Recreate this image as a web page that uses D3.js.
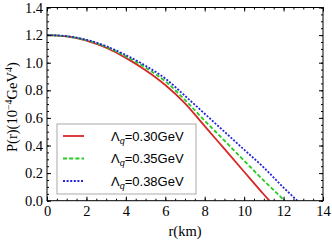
<!DOCTYPE html>
<html><head><meta charset="utf-8">
<script src="https://cdn.jsdelivr.net/npm/d3@7"></script>
<style>body{margin:0;background:#fff}svg{display:block}</style>
</head><body>
<svg id="c" width="332" height="242"></svg>
<script>
const labels = ["0.30", "0.35", "0.38"];
const colors = ["#d92626", "#22cc22", "#2424d8"];
const dashes = [null, "4,2.2", "2,1.6"];
const redR   = [0,1,2,3,4,5,6,7,8,9,10,11,11.28];
const redP   = [1.200,1.190,1.160,1.108,1.035,0.945,0.838,0.705,0.540,0.375,0.210,0.045,0];
const greenR = [0,1,2,3,4,5,6,7,8,9,10,11,12,12.04];
const greenP = [1.200,1.191,1.163,1.115,1.045,0.965,0.865,0.730,0.580,0.435,0.290,0.145,0.006,0];
const blueR  = [0,1,2,3,4,5,6,7,8,9,10,11,12,12.7];
const blueP  = [1.200,1.192,1.166,1.120,1.055,0.978,0.885,0.760,0.630,0.500,0.370,0.240,0.095,0];
const xTicks = [0,2,4,6,8,10,12,14];
const yTicks = [0,0.2,0.4,0.6,0.8,1.0,1.2,1.4];

const series = [[redR,redP],[greenR,greenP],[blueR,blueP]];
const svg = d3.select("#c");
const L=47, R=323, T=7.5, B=200.7;
const x = d3.scaleLinear().domain([0,14]).range([L,R]);
const y = d3.scaleLinear().domain([0,1.4]).range([B,T]);
const serif = "'Liberation Serif','Times New Roman',serif";

svg.append("clipPath").attr("id","cl").append("rect")
  .attr("x",L).attr("y",T).attr("width",R-L).attr("height",B-T);

const line = d3.line().x(d=>x(d[0])).y(d=>y(d[1])).curve(d3.curveMonotoneX);
series.forEach((s,i)=>{
  const pts = s[0].map((r,j)=>[r,s[1][j]]);
  svg.append("path").attr("d",line(pts)).attr("fill","none")
    .attr("stroke",colors[i]).attr("stroke-width",1.8)
    .attr("stroke-dasharray",dashes[i]).attr("clip-path","url(#cl)");
});

svg.append("rect").attr("x",L).attr("y",T).attr("width",R-L).attr("height",B-T)
  .attr("fill","none").attr("stroke","#000").attr("stroke-width",1);

const minorX = d3.range(0,14.01,0.5), minorY = d3.range(0,1.401,0.05);
const axB = d3.axisBottom(x).tickValues(xTicks).tickSize(-4).tickPadding(5).tickFormat(d3.format("d"));
const axT = d3.axisTop(x).tickValues(xTicks).tickSize(-4).tickFormat("");
const axL = d3.axisLeft(y).tickValues(yTicks).tickSize(-4).tickPadding(4).tickFormat(d3.format(".1f"));
const axR = d3.axisRight(y).tickValues(yTicks).tickSize(-4).tickFormat("");
const mB = d3.axisBottom(x).tickValues(minorX).tickSize(-2).tickFormat("");
const mT = d3.axisTop(x).tickValues(minorX).tickSize(-2).tickFormat("");
const mL = d3.axisLeft(y).tickValues(minorY).tickSize(-2).tickFormat("");
const mR = d3.axisRight(y).tickValues(minorY).tickSize(-2).tickFormat("");
[[axB,`0,${B}`],[mB,`0,${B}`],[axT,`0,${T}`],[mT,`0,${T}`],
 [axL,`${L},0`],[mL,`${L},0`],[axR,`${R},0`],[mR,`${R},0`]].forEach(([a,t])=>{
  const g = svg.append("g").attr("transform",`translate(${t})`).call(a);
  g.select(".domain").remove();
  g.selectAll("text").attr("font-family",serif).attr("font-size",14.5).attr("fill","#000");
});

svg.append("text").attr("x",(L+R)/2).attr("y",236).attr("text-anchor","middle")
  .attr("font-family",serif).attr("font-size",14.5).text("r(km)");
const yl = svg.append("text").attr("transform",`translate(17,${(T+B)/2+3}) rotate(-90)`)
  .attr("text-anchor","middle").attr("font-family",serif).attr("font-size",14.5);
yl.append("tspan").text("P(r)(10");
yl.append("tspan").attr("dy",-5.5).attr("font-size",10).text("−4");
yl.append("tspan").attr("dy",5.5).text("GeV");
yl.append("tspan").attr("dy",-5.5).attr("font-size",10).text("4");
yl.append("tspan").attr("dy",5.5).text(")");

const lg = svg.append("g");
lg.append("rect").attr("x",57).attr("y",124).attr("width",139).attr("height",70)
  .attr("fill","#fff").attr("stroke","#aaa").attr("stroke-width",1);
const rowsY = [136, 158.5, 181];
labels.forEach((lab,i)=>{
  lg.append("line").attr("x1",63).attr("x2",84).attr("y1",rowsY[i]).attr("y2",rowsY[i])
    .attr("stroke",colors[i]).attr("stroke-width",1.8).attr("stroke-dasharray",dashes[i]);
  const t = lg.append("text").attr("x",111).attr("y",rowsY[i]+4.5)
    .attr("font-family","'Liberation Sans',Arial,sans-serif").attr("font-size",13);
  t.append("tspan").text("Λ");
  t.append("tspan").attr("dy",3).attr("font-size",9).attr("font-style","italic").text("q");
  t.append("tspan").attr("dy",-3).text("=" + lab + "GeV");
});
</script>
</body></html>
